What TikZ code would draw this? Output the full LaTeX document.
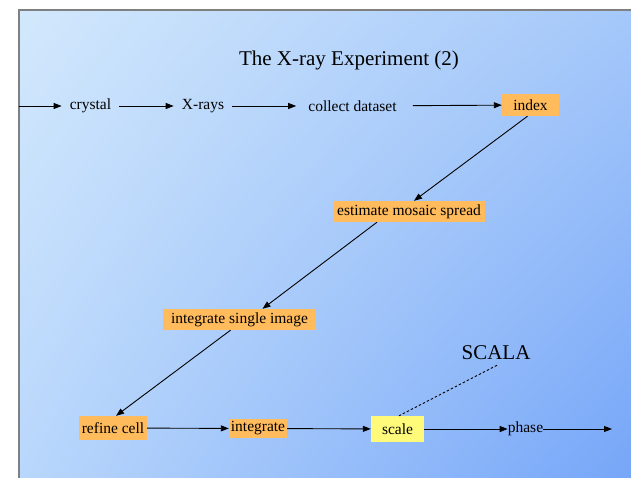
\documentclass[tikz,border=0pt]{standalone}
\usepackage{fontspec}
\setmainfont{Liberation Serif}
\usetikzlibrary{arrows.meta,positioning,shadings}
\definecolor{boxorange}{RGB}{255,187,92}
\definecolor{boxyellow}{RGB}{255,250,122}
\definecolor{bgtl}{RGB}{210,232,252}
\definecolor{bgtr}{RGB}{165,200,250}
\definecolor{bgbl}{RGB}{185,215,252}
\definecolor{bgbr}{RGB}{118,166,248}
\definecolor{framegray}{RGB}{128,128,128}
\tikzset{
	stage/.style = {inner xsep=8pt, inner ysep=3pt, font=\fontsize{15.5}{18}\selectfont},
	stepbox/.style = {fill=boxorange, inner sep=0pt, minimum height=21pt, font=\fontsize{15.5}{18}\selectfont},
	scalebox/.style = {stepbox, fill=boxyellow},
	heading/.style = {inner sep=5pt, font=\fontsize{21}{25}\selectfont},
	flow/.style = {-{Triangle[length=8pt,width=6pt]}, line width=0.9pt}
}

\begin{document}
\begin{tikzpicture}[x=1pt, y=-1pt]
\useasboundingbox (0,0) rectangle (631,478);

% background
\shade [upper left=bgtl, upper right=bgtr, lower left=bgbl, lower right=bgbr] (19,10) rectangle (631,478);
\draw [framegray, line width=1.2pt] (19,478) -- (19,10) -- (631,10);

% NODES
\node (title) [heading] at (349,60) {The X-ray Experiment (2)};
% data collection
\coordinate (start) at (19,106);
\node (crystal) [stage] at (90.5,106) {crystal};
\node (xrays) [stage] at (203,106) {X-rays};
\node (collect) [stage, inner xsep=12pt] at (352.5,106) {collect dataset};
\node (index) [stepbox, minimum width=57pt, minimum height=22pt] at (530.5,105) {index};
% processing
\node (mosaic) [stepbox, minimum width=152pt] at (409,211.5) {estimate mosaic spread};
\node (single) [stepbox, minimum width=153pt] at (239.5,319.5) {integrate single image};
\node (refine) [stepbox, minimum width=68pt, minimum height=24pt] at (113,428) {refine cell};
\node (integ) [stepbox, minimum width=58pt, minimum height=19pt] at (258,428.5) {integrate};
\node (scale) [scalebox, minimum width=53pt, minimum height=26pt] at (397.5,429) {scale};
\node (phase) [stage, inner xsep=0pt] at (525.5,429) {phase};
\coordinate (end) at (612,429);
% program
\node (scala) [heading] at (496,353) {SCALA};

%CONNECTIONS
\draw [flow] (start) -- (crystal);
\draw [flow] (crystal) -- (xrays);
\draw [flow] (xrays) -- (collect);
\draw [flow, shorten <=4pt] (collect) -- (index);
\draw [flow] ([xshift=-3pt]index.south) -- ([xshift=5pt]mosaic.north);
\draw [flow] ([xshift=-32pt]mosaic.south) -- ([xshift=23pt]single.north);
\draw [flow] ([xshift=-9pt]single.south) -- ([xshift=3pt]refine.north);
\draw [flow] (refine) -- (integ);
\draw [flow] (integ) -- (scale);
\draw [flow] (scale) -- (phase);
\draw [flow] (phase) -- (end);
\draw [line width=0.9pt, dash pattern=on 2.5pt off 2pt] ([xshift=1pt]scala.south) -- ([xshift=1.5pt]scale.north);

\end{tikzpicture}
\end{document}
